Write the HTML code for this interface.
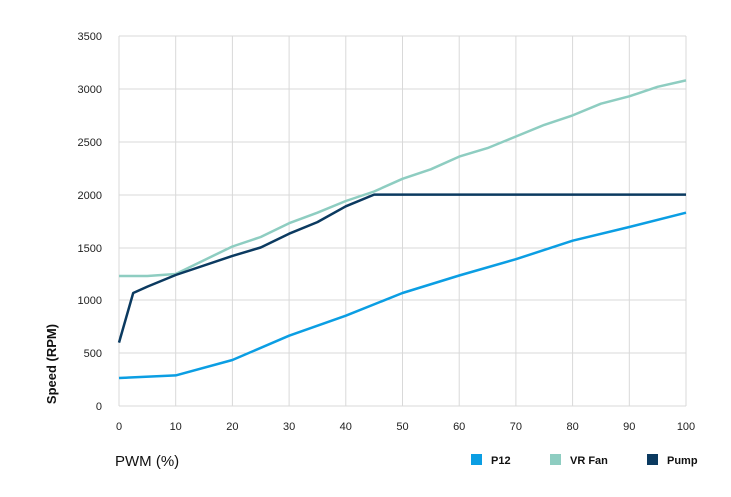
<!DOCTYPE html>
<html><head><meta charset="utf-8"><style>body{margin:0;background:#fff}svg{display:block}</style></head><body>
<svg width="731" height="497" viewBox="0 0 731 497" xmlns="http://www.w3.org/2000/svg" font-family="Liberation Sans, sans-serif">
<g stroke="#d9d9d9" stroke-width="1">
<line x1="119" y1="36" x2="686" y2="36"/><line x1="119" y1="89" x2="686" y2="89"/><line x1="119" y1="142" x2="686" y2="142"/><line x1="119" y1="195" x2="686" y2="195"/><line x1="119" y1="248" x2="686" y2="248"/><line x1="119" y1="300" x2="686" y2="300"/><line x1="119" y1="353" x2="686" y2="353"/>
<line x1="119" y1="36" x2="119" y2="406"/><line x1="175.7" y1="36" x2="175.7" y2="406"/><line x1="232.4" y1="36" x2="232.4" y2="406"/><line x1="289.1" y1="36" x2="289.1" y2="406"/><line x1="345.8" y1="36" x2="345.8" y2="406"/><line x1="402.5" y1="36" x2="402.5" y2="406"/><line x1="459.2" y1="36" x2="459.2" y2="406"/><line x1="515.9" y1="36" x2="515.9" y2="406"/><line x1="572.6" y1="36" x2="572.6" y2="406"/><line x1="629.3" y1="36" x2="629.3" y2="406"/><line x1="686" y1="36" x2="686" y2="406"/>
<line x1="119" y1="406" x2="686" y2="406"/>
</g>
<g font-size="11" fill="#222" text-anchor="end">
<text x="102" y="40">3500</text><text x="102" y="93">3000</text><text x="102" y="146">2500</text><text x="102" y="199">2000</text><text x="102" y="252">1500</text><text x="102" y="304">1000</text><text x="102" y="357">500</text><text x="102" y="410">0</text>
</g>
<g font-size="11" fill="#222" text-anchor="middle">
<text x="119" y="430">0</text><text x="175.7" y="430">10</text><text x="232.4" y="430">20</text><text x="289.1" y="430">30</text><text x="345.8" y="430">40</text><text x="402.5" y="430">50</text><text x="459.2" y="430">60</text><text x="515.9" y="430">70</text><text x="572.6" y="430">80</text><text x="629.3" y="430">90</text><text x="686" y="430">100</text>
</g>
<text transform="translate(56,364) rotate(-90)" font-size="13" font-weight="bold" fill="#111" text-anchor="middle">Speed  (RPM)</text>
<text x="115" y="466" font-size="15" fill="#111">PWM  (%)</text>
<g font-size="11" font-weight="bold" fill="#111">
<rect x="471" y="454" width="11" height="11" fill="#0b9ee3"/><text x="491" y="464">P12</text>
<rect x="550" y="454" width="11" height="11" fill="#8ecdc1"/><text x="570" y="464">VR Fan</text>
<rect x="647" y="454" width="11" height="11" fill="#0b3a60"/><text x="667" y="464">Pump</text>
</g>
<g fill="none" stroke-width="2.5" stroke-linejoin="round">
<polyline stroke="#0b9ee3" points="119,378 175.7,375.4 232.4,360 289.1,335.7 345.8,315.7 402.5,293 459.2,275.5 515.9,259.2 572.6,240.7 629.3,227 686,212.7"/>
<polyline stroke="#8ecdc1" points="119,276 147.4,276 175.7,274 204,260.2 232.4,246.5 260.7,237 289.1,223.2 317.4,212.7 345.8,201 374.1,191.5 402.5,178.8 430.8,169.3 459.2,156.6 487.5,148.1 515.9,136.5 544.2,124.9 572.6,115.4 600.9,103.7 629.3,96.3 657.6,86.8 686,80.4"/>
<polyline stroke="#0b3a60" points="119,342.6 133.2,293 147.4,286.6 175.7,275 232.4,255.9 260.7,247.5 289.1,233.7 317.4,222.1 345.8,206.3 374.1,194.6 686,194.6"/>
</g>
</svg>
</body></html>
